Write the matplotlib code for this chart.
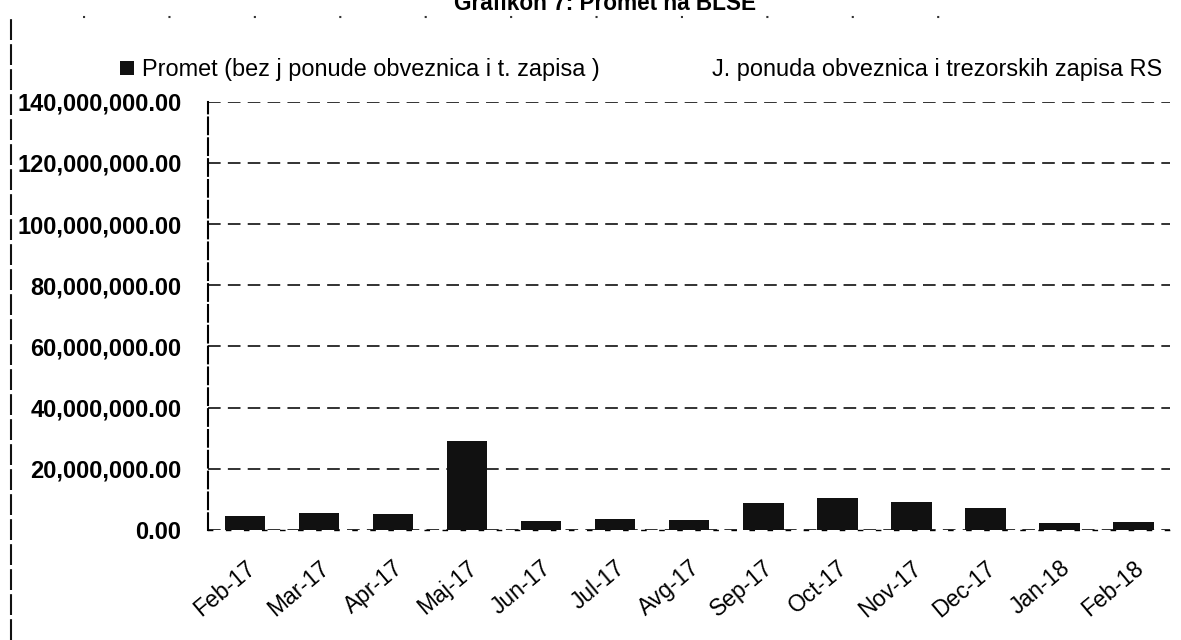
import matplotlib.pyplot as plt
from matplotlib.lines import Line2D
from matplotlib.ticker import FuncFormatter
import numpy as np

plt.rcParams['font.family'] = ['Liberation Sans', 'DejaVu Sans']

months = ['Feb-17', 'Mar-17', 'Apr-17', 'Maj-17', 'Jun-17', 'Jul-17', 'Avg-17',
          'Sep-17', 'Oct-17', 'Nov-17', 'Dec-17', 'Jan-18', 'Feb-18']
# promet bez javne ponude obveznica i trezorskih zapisa (KM)
promet = [4.5e6, 5.4e6, 5.3e6, 29.1e6, 3.0e6, 3.6e6, 3.2e6,
          8.8e6, 10.5e6, 9.2e6, 7.3e6, 2.2e6, 2.7e6]
# javna ponuda - not visible on the scan
ponuda = [0, 0, 0, 0, 0, 0, 0, 0, 0, 0, 0, 0, 0]
yticks = [0, 20e6, 40e6, 60e6, 80e6, 100e6, 120e6, 140e6]

fig = plt.figure(figsize=(11.81, 6.4), dpi=100)
ax = fig.add_axes([0.176, 0.172, 0.815, 0.669])

x = np.arange(len(months))
ax.bar(x, promet, width=0.55, color='#111111', label='Promet (bez j ponude obveznica i t. zapisa )', zorder=3)
ax.bar(x, ponuda, width=0.55, bottom=promet, color='white',
       label='J. ponuda obveznica i trezorskih zapisa RS', zorder=3)

ax.set_xlim(-0.5, len(months) - 0.5)
ax.set_ylim(0, 140e6)
ax.set_yticks(yticks)
ax.yaxis.set_major_formatter(FuncFormatter(lambda v, p: '{:,.2f}'.format(v)))
ax.grid(axis='y', color='#222222', linestyle=(0, (7, 4)), linewidth=1.3, zorder=0)

ax.set_xticks(x)
ax.set_xticklabels(months, rotation=40, ha='right', rotation_mode='anchor')
ax.tick_params(axis='x', length=0, labelsize=16.5, pad=19)
ax.tick_params(axis='y', length=0, labelsize=17, pad=19)
for lab in ax.get_yticklabels():
    lab.set_fontweight('bold')

for s in ['top', 'right']:
    ax.spines[s].set_visible(False)
ax.spines['left'].set_linestyle((0, (8, 2)))
ax.spines['left'].set_linewidth(1.5)
ax.spines['bottom'].set_linestyle((0, (3, 10)))
ax.spines['bottom'].set_linewidth(1)

handles, labels = ax.get_legend_handles_labels()
fig.legend(handles, labels, loc='center left', bbox_to_anchor=(0.092, 0.891), ncol=2,
           frameon=False, fontsize=16.9, borderpad=0, handlelength=0.6, handleheight=0.6,
           handletextpad=0.3, columnspacing=3.9)

fig.text(0.512, 0.985, 'Grafikon 7: Promet na BLSE', ha='center', va='baseline',
         fontsize=16.3, fontweight='bold')

# outer border of the scanned chart
fig.add_artist(Line2D([0.009, 0.009], [0.0, 0.97], transform=fig.transFigure,
                      color='#111111', linewidth=1.5, linestyle=(0, (10, 2))))
fig.add_artist(Line2D([0.07, 0.82], [0.974, 0.974], transform=fig.transFigure,
                      color='#333333', linewidth=1.5, linestyle=(0, (1, 40))))

fig.savefig('out.png', dpi=100)
